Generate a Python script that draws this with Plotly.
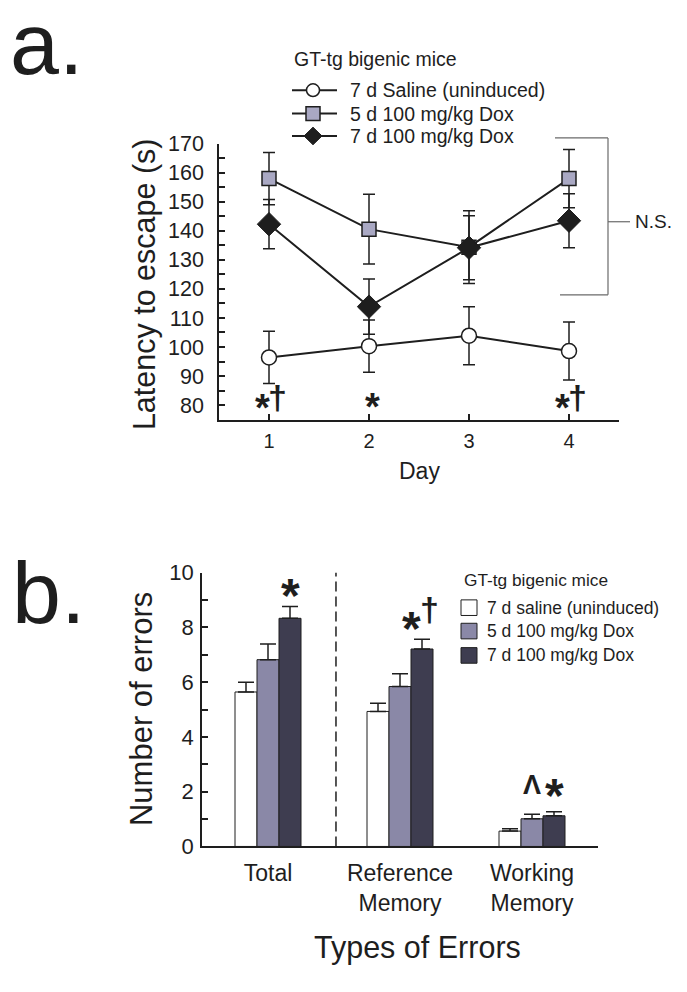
import plotly.graph_objects as go

# The page body has an 8px margin, so the figure is drawn at (8, 8).
FW, FH = 679, 984
OFF = 8
FONT = "Liberation Sans, Arial, sans-serif"
INK = "#1e1e1e"

# ---------------- Panel a data ----------------
days = [1, 2, 3, 4]
day_ticks = [1, 2, 3, 4]
saline_a = [96.4, 100.3, 103.9, 98.6]
saline_a_err = [9.0, 9.0, 10.0, 10.0]
dox5_a = [158.0, 140.6, 134.4, 158.0]
dox5_a_err = [9.0, 12.0, 12.5, 10.0]
dox7_a = [142.3, 113.9, 134.2, 143.5]
dox7_a_err = [8.5, 9.5, 11.0, 9.3]
names_a = ["7 d Saline (uninduced)", "5 d 100 mg/kg Dox", "7 d 100 mg/kg Dox"]

# ---------------- Panel b data ----------------
err_types = ["Total", "Reference<br>Memory", "Working<br>Memory"]
err_pos = [0, 1, 2]
saline_b = [5.64, 4.93, 0.56]
saline_b_err = [0.36, 0.30, 0.09]
dox5_b = [6.82, 5.84, 1.01]
dox5_b_err = [0.57, 0.47, 0.17]
dox7_b = [8.33, 7.21, 1.12]
dox7_b_err = [0.43, 0.36, 0.15]
names_b = ["7 d saline (uninduced)", "5 d 100 mg/kg Dox", "7 d 100 mg/kg Dox"]

GRAY = "#a9a8c3"
MID = "#8a88a7"
DARK = "#3e3d50"


def sx(x):
    return (x - OFF) / FW


def sy(y):
    return 1 - (y - OFF) / FH


fig = go.Figure()


def err(arr, w=6):
    return dict(type="data", array=arr, visible=True, color=INK, thickness=1.5, width=w)


fig.add_trace(go.Scatter(x=days, y=saline_a, error_y=err(saline_a_err), name=names_a[0],
                         mode="lines+markers", line=dict(color=INK, width=2),
                         marker=dict(symbol="circle", size=15, color="white",
                                     line=dict(color=INK, width=1.5)),
                         xaxis="x", yaxis="y"))
fig.add_trace(go.Scatter(x=days, y=dox5_a, error_y=err(dox5_a_err), name=names_a[1],
                         mode="lines+markers", line=dict(color=INK, width=2),
                         marker=dict(symbol="square", size=14, color=GRAY,
                                     line=dict(color=INK, width=1.5)),
                         xaxis="x", yaxis="y"))
fig.add_trace(go.Scatter(x=days, y=dox7_a, error_y=err(dox7_a_err), name=names_a[2],
                         mode="lines+markers", line=dict(color=INK, width=2),
                         marker=dict(symbol="diamond", size=18, color=INK,
                                     line=dict(color=INK, width=1)),
                         xaxis="x", yaxis="y"))


def berr(arr):
    return dict(type="data", array=arr, arrayminus=[0] * len(arr), symmetric=False,
                visible=True, color=INK, thickness=1.5, width=8)


bar_colors = ["white", MID, DARK]
for vals, errs, col, nm in [(saline_b, saline_b_err, bar_colors[0], names_b[0]),
                             (dox5_b, dox5_b_err, bar_colors[1], names_b[1]),
                             (dox7_b, dox7_b_err, bar_colors[2], names_b[2])]:
    fig.add_trace(go.Bar(x=err_pos, y=vals, error_y=berr(errs), name=nm,
                         marker=dict(color=col, line=dict(color=INK, width=1)),
                         xaxis="x2", yaxis="y2"))

axis_line = dict(showline=True, linecolor=INK, linewidth=1.5, showgrid=False,
                 zeroline=False, ticks="inside", ticklen=6, tickwidth=1.5, tickcolor=INK)

fig.update_layout(
    width=FW, height=FH,
    margin=dict(l=0, r=0, t=0, b=0),
    paper_bgcolor="white", plot_bgcolor="rgba(0,0,0,0)",
    font=dict(family=FONT, color=INK),
    barmode="group", bargap=0.5, bargroupgap=0,
    showlegend=False,
    xaxis=dict(domain=[sx(219), sx(619)], range=[0.5, 4.5], anchor="y",
               tickvals=day_ticks, ticklabelstandoff=3,
               tickfont=dict(family=FONT, size=20, color=INK), **axis_line),
    yaxis=dict(domain=[sy(418), sy(135)], range=[75, 170], anchor="x",
               tick0=80, dtick=10, ticklabelstandoff=9,
               tickfont=dict(family=FONT, size=21.5, color=INK),
               minor=dict(ticks="inside", dtick=5, tick0=75, ticklen=6, tickwidth=1.5,
                          tickcolor=INK, showgrid=False),
               **axis_line),
    xaxis2=dict(domain=[sx(202), sx(598)], range=[-0.5, 2.5], anchor="y2",
                tickvals=err_pos, ticktext=err_types, ticks="", ticklabelstandoff=5,
                showline=True, linecolor=INK, linewidth=1.5, showgrid=False, zeroline=False,
                tickfont=dict(family=FONT, size=23, color=INK)),
    yaxis2=dict(domain=[sy(856), sy(575)], range=[0, 10], anchor="x2",
                tick0=0, dtick=2, ticklabelstandoff=2,
                tickfont=dict(family=FONT, size=22, color=INK),
                minor=dict(ticks="inside", dtick=1, ticklen=6, tickwidth=1.5,
                           tickcolor=INK, showgrid=False),
                **axis_line),
)

ann = []
shapes = []


def text(t, x, y, size, xref="paper", yref="paper", angle=0, xanchor="center",
         bold=False, yshift=0, color=INK):
    if xref == "paper":
        x = sx(x)
    if yref == "paper":
        y = sy(y)
    ann.append(dict(text=t, x=x, y=y, xref=xref, yref=yref, showarrow=False,
                    textangle=angle, xanchor=xanchor, yanchor="middle", yshift=yshift,
                    font=dict(family=FONT, size=size, color=color,
                              weight="bold" if bold else "normal")))


def pline(x0, y0, x1, y1, color=INK, width=1.5, dash="solid"):
    shapes.append(dict(type="line", xref="paper", yref="paper",
                       x0=sx(x0), x1=sx(x1), y0=sy(y0), y1=sy(y1),
                       line=dict(color=color, width=width, dash=dash)))


# panel labels
text("a.", 8, 32, 88, xanchor="left")
text("b.", 10, 595, 88, xanchor="left")

# axis titles
text("Latency to escape (s)", 144, 279, 30.5, angle=-90)
text("Day", 419, 471, 23)
text("Number of errors", 141, 715, 31, angle=-90)
text("Types of Errors", 417, 960, 30.5)

# ---- legend panel a
text("GT-tg bigenic mice", 292, 48, 19.5, xanchor="left")
rows_a = [80, 104, 127]
for i, yy in enumerate(rows_a):
    pline(292, yy, 337, yy, width=2)
    text(names_a[i], 348, yy, 19.5, xanchor="left")
r = 6.5
shapes.append(dict(type="circle", xref="paper", yref="paper",
                   x0=sx(313 - r), x1=sx(313 + r), y0=sy(rows_a[0] + r), y1=sy(rows_a[0] - r),
                   fillcolor="white", line=dict(color=INK, width=1.5)))
r = 7
shapes.append(dict(type="rect", xref="paper", yref="paper",
                   x0=sx(313 - r), x1=sx(313 + r), y0=sy(rows_a[1] + r), y1=sy(rows_a[1] - r),
                   fillcolor=GRAY, line=dict(color=INK, width=1.5)))
r = 9
cx, cy = 313, rows_a[2]
shapes.append(dict(type="path", xref="paper", yref="paper",
                   path="M{},{} L{},{} L{},{} L{},{} Z".format(
                       sx(cx - r), sy(cy), sx(cx), sy(cy - r), sx(cx + r), sy(cy), sx(cx), sy(cy + r)),
                   fillcolor=INK, line=dict(color=INK, width=1)))

# ---- legend panel b
text("GT-tg bigenic mice", 462, 583, 17.3, xanchor="left")
rows_b = [611, 635, 660]
for i, yy in enumerate(rows_b):
    shapes.append(dict(type="rect", xref="paper", yref="paper",
                       x0=sx(461), x1=sx(477), y0=sy(yy + 8), y1=sy(yy - 8),
                       fillcolor=bar_colors[i], line=dict(color=INK, width=1)))
    text(names_b[i], 485, yy, 17.5, xanchor="left")

# N.S. bracket
LG = "#6a6a6a"
pline(608, 129, 608, 290, color=LG, width=1.2)
pline(555, 129, 608, 129, color=LG, width=1.2)
pline(560, 290, 608, 290, color=LG, width=1.2)
pline(608, 215, 630, 215, color=LG, width=1.2)
text("N.S.", 633, 215, 19, xanchor="left")

# significance marks panel a (data coordinates)
for t, x, y, ys, s in [("*", 0.93, 81.7, -8, 38), ("†", 1.08, 82.0, 2, 34),
                       ("*", 2.03, 82.0, -8, 38),
                       ("*", 3.93, 81.7, -8, 38), ("†", 4.08, 82.0, 2, 34)]:
    text(t, x, y, s, xref="x", yref="y", bold=True, yshift=ys)

# significance marks panel b
for t, x, y, ys, s in [("*", 0.167, 9.54, -10, 48),
                       ("*", 1.09, 8.33, -10, 48), ("†", 1.227, 8.58, 2, 34),
                       ("Λ", 2.0, 2.24, 0, 27), ("*", 2.17, 2.24, -10, 48)]:
    text(t, x, y, s, xref="x2", yref="y2", bold=True, yshift=ys)

shapes.append(dict(type="line", xref="x2", yref="y2", x0=0.515, x1=0.515, y0=0, y1=10,
                   line=dict(color=INK, width=1.5, dash="10px,5px")))

fig.update_layout(annotations=ann, shapes=shapes)
fig.write_html("out.html")
